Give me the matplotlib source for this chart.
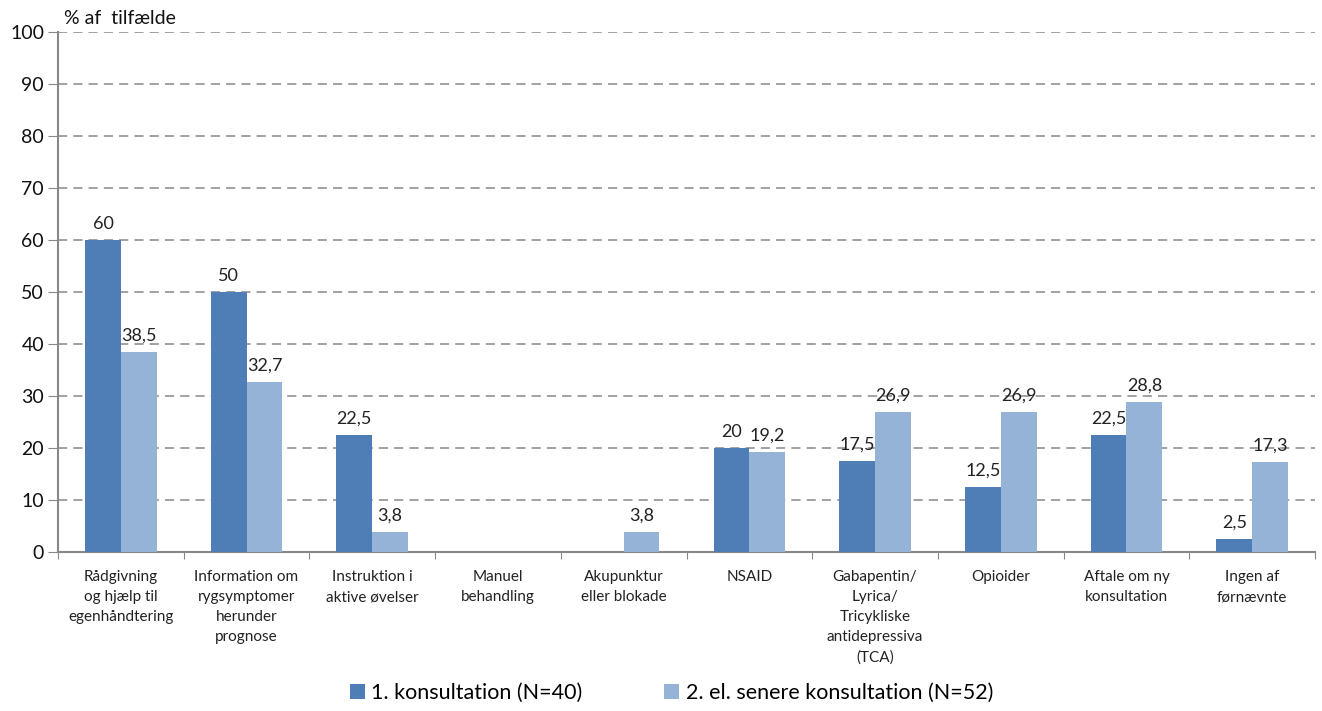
import matplotlib
matplotlib.use('Agg')
import matplotlib.pyplot as plt
import numpy as np

categories = [
    'Rådgivning\nog hjælp til\negenhåndtering',
    'Information om\nrygsymptomer\nherunder\nprognose',
    'Instruktion i\naktive øvelser',
    'Manuel\nbehandling',
    'Akupunktur\neller blokade',
    'NSAID',
    'Gabapentin/\nLyrica/\nTricykliske\nantidepressiva\n(TCA)',
    'Opioider',
    'Aftale om ny\nkonsultation',
    'Ingen af\nførnævnte',
]
first = [60, 50, 22.5, 0, 0, 20, 17.5, 12.5, 22.5, 2.5]
later = [38.5, 32.7, 3.8, 0, 3.8, 19.2, 26.9, 26.9, 28.8, 17.3]
series_names = ['1. konsultation (N=40)', '2. el. senere konsultation (N=52)']
colors = ['#4f7db5', '#95b2d7']

plt.rcParams['font.family'] = ['Lato', 'DejaVu Sans']

fig = plt.figure(figsize=(13.22, 7.11), dpi=100)
ax = fig.add_axes([58 / 1322, 1 - 552 / 711, 1257 / 1322, 520 / 711])

x = np.arange(len(categories))
w = 0.285
b1 = ax.bar(x - w / 2, first, w, color=colors[0], label=series_names[0], zorder=3)
b2 = ax.bar(x + w / 2, later, w, color=colors[1], label=series_names[1], zorder=3)


def fmt(v):
    return ('%g' % v).replace('.', ',')


for bars, vals in [(b1, first), (b2, later)]:
    for rect, v in zip(bars, vals):
        if v == 0:
            continue
        ax.annotate(fmt(v), (rect.get_x() + rect.get_width() / 2, v),
                    xytext=(0, 6), textcoords='offset points',
                    ha='center', va='bottom', fontsize=13, color='#222222')

ax.set_xlim(-0.5, len(categories) - 0.5)
ax.set_ylim(0, 100)
ax.set_yticks(range(0, 101, 10))
ax.tick_params(axis='y', labelsize=14, length=7, color='#888888', labelcolor='#111111', pad=3)
ax.set_xticks(np.arange(len(categories) + 1) - 0.5, minor=False)
ax.set_xticklabels([])
ax.set_xticks(x, minor=True)
ax.set_xticklabels(categories, minor=True, fontsize=11, color='#222222', linespacing=1.55, va='top')
ax.tick_params(axis='x', which='major', length=5, color='#888888', direction='out')
ax.tick_params(axis='x', which='minor', length=0, pad=13)

ax.yaxis.grid(True, linestyle=(0, (6, 4)), color='#888888', linewidth=1.1, zorder=0)
ax.set_axisbelow(True)
for s in ['top', 'right']:
    ax.spines[s].set_visible(False)
for s in ['left', 'bottom']:
    ax.spines[s].set_color('#888888')
    ax.spines[s].set_linewidth(1.5)

fig.text(64 / 1322, 1 - 18 / 711, '% af  tilfælde', fontsize=14, color='#111111', va='center')

fig.legend(handles=[b1, b2], loc='center', bbox_to_anchor=(0.508, 1 - 693 / 711),
           ncol=2, frameon=False, fontsize=15.5, handlelength=0.7, handleheight=0.7,
           handletextpad=0.3, columnspacing=3.8)

fig.savefig('out.png', dpi=100)
